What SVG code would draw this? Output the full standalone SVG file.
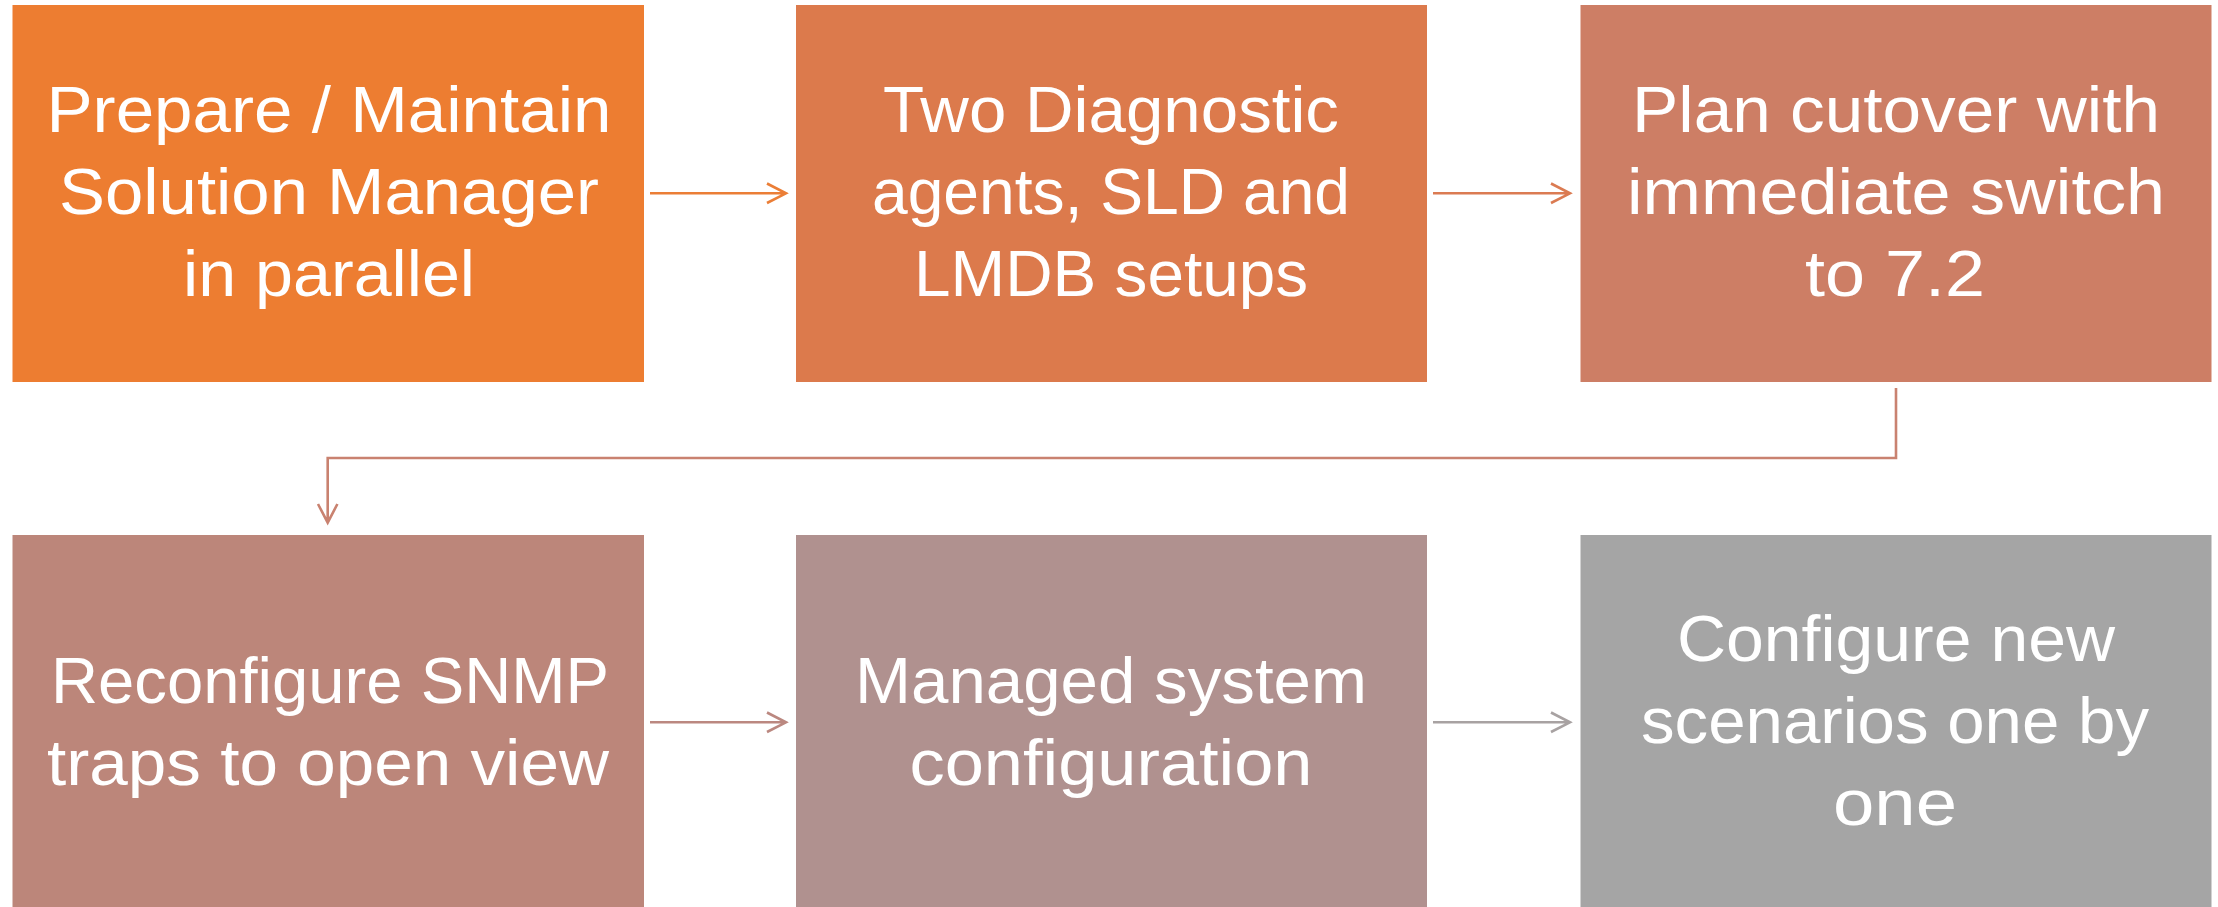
<svg xmlns="http://www.w3.org/2000/svg" width="2218" height="907" viewBox="0 0 2218 907">
<style>
  .box text { font-family: "Liberation Sans", Arial, sans-serif; font-size: 65px; fill: #FFFFFF; text-anchor: middle; }
  .conn path { fill: none; stroke-width: 2.6; stroke-linecap: butt; stroke-linejoin: miter; }
</style>
<rect x="0" y="0" width="2218" height="907" fill="#FFFFFF"/>
<g id="node1" class="box">
  <rect x="12.5" y="5" width="631.5" height="377" fill="#ED7D31"/>
  <text x="329" y="132" textLength="565" lengthAdjust="spacingAndGlyphs">Prepare / Maintain</text>
  <text x="329" y="214" textLength="540" lengthAdjust="spacingAndGlyphs">Solution Manager</text>
  <text x="329" y="296" textLength="292" lengthAdjust="spacingAndGlyphs">in parallel</text>
</g>
<g id="node2" class="box">
  <rect x="796" y="5" width="631" height="377" fill="#DC7A4C"/>
  <text x="1111" y="132" textLength="456" lengthAdjust="spacingAndGlyphs">Two Diagnostic</text>
  <text x="1111" y="214" textLength="478" lengthAdjust="spacingAndGlyphs">agents, SLD and</text>
  <text x="1111" y="296" textLength="394" lengthAdjust="spacingAndGlyphs">LMDB setups</text>
</g>
<g id="node3" class="box">
  <rect x="1580.5" y="5" width="631" height="377" fill="#CD7E65"/>
  <text x="1896" y="132" textLength="528" lengthAdjust="spacingAndGlyphs">Plan cutover with</text>
  <text x="1896" y="214" textLength="538" lengthAdjust="spacingAndGlyphs">immediate switch</text>
  <text x="1895" y="296" textLength="180" lengthAdjust="spacingAndGlyphs">to 7.2</text>
</g>
<g id="node4" class="box">
  <rect x="12.5" y="535" width="631.5" height="377" fill="#BC867A"/>
  <text x="330" y="703" textLength="558" lengthAdjust="spacingAndGlyphs">Reconfigure SNMP</text>
  <text x="328" y="785" textLength="562" lengthAdjust="spacingAndGlyphs">traps to open view</text>
</g>
<g id="node5" class="box">
  <rect x="796" y="535" width="631" height="377" fill="#B0918F"/>
  <text x="1111" y="703" textLength="512" lengthAdjust="spacingAndGlyphs">Managed system</text>
  <text x="1111" y="785" textLength="403" lengthAdjust="spacingAndGlyphs">configuration</text>
</g>
<g id="node6" class="box">
  <rect x="1580.5" y="535" width="631" height="377" fill="#A5A5A5"/>
  <text x="1896" y="661" textLength="438" lengthAdjust="spacingAndGlyphs">Configure new</text>
  <text x="1895" y="743" textLength="508" lengthAdjust="spacingAndGlyphs">scenarios one by</text>
  <text x="1895" y="825" textLength="124" lengthAdjust="spacingAndGlyphs">one</text>
</g>
<g id="connectors" class="conn">
  <path d="M650,193.3 H786 M767,183.5 L786,193.3 L767,203" stroke="#EB7E36"/>
  <path d="M1433,193.3 H1570 M1551,183.5 L1570,193.3 L1551,203" stroke="#DB7B52"/>
  <path d="M1896,388 V458 H327.7 V522.7 M318,504 L327.7,522.7 L337.4,504" stroke="#C98270"/>
  <path d="M650,722.3 H786 M767,712.5 L786,722.3 L767,732" stroke="#BB8880"/>
  <path d="M1433,722.3 H1570 M1551,712.5 L1570,722.3 L1551,732" stroke="#A8A2A2"/>
</g>
</svg>
